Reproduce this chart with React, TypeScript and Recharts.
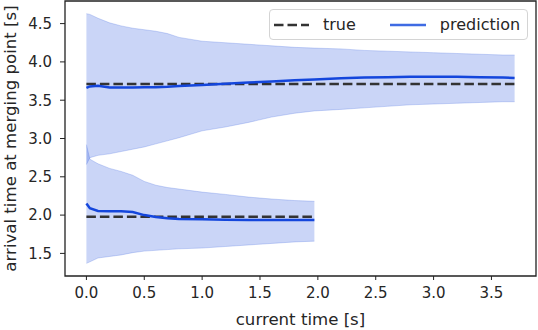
import React from 'react';
import { ComposedChart, Area, Line, XAxis, YAxis, ReferenceArea, Legend } from 'recharts';

// sample times [s]
const times = [0, 0.03, 0.1, 0.2, 0.3, 0.4, 0.5, 0.6, 0.7, 0.8, 1.0, 1.2, 1.4, 1.6, 1.8, 1.97, 2.2, 2.4, 2.6, 2.8, 3.0, 3.2, 3.4, 3.6, 3.7];

// vehicle 1 (later arrival)
const trueUpper = [3.71, 3.71, 3.71, 3.71, 3.71, 3.71, 3.71, 3.71, 3.71, 3.71, 3.71, 3.71, 3.71, 3.71, 3.71, 3.71, 3.71, 3.71, 3.71, 3.71, 3.71, 3.71, 3.71, 3.71, 3.71];
const predUpper = [3.66, 3.68, 3.69, 3.665, 3.665, 3.665, 3.67, 3.67, 3.675, 3.685, 3.7, 3.715, 3.73, 3.745, 3.76, 3.77, 3.785, 3.795, 3.8, 3.805, 3.805, 3.805, 3.8, 3.795, 3.79];
const highUpper = [4.63, 4.62, 4.57, 4.51, 4.47, 4.44, 4.42, 4.4, 4.37, 4.32, 4.27, 4.25, 4.23, 4.21, 4.19, 4.18, 4.17, 4.15, 4.14, 4.13, 4.12, 4.11, 4.1, 4.09, 4.09];
const lowUpper = [2.66, 2.75, 2.78, 2.8, 2.83, 2.86, 2.89, 2.93, 2.97, 3.01, 3.1, 3.15, 3.21, 3.28, 3.33, 3.36, 3.38, 3.4, 3.42, 3.44, 3.45, 3.46, 3.47, 3.48, 3.48];

// vehicle 2 (earlier arrival), only up to 1.97 s
const trueLower = [1.98, 1.98, 1.98, 1.98, 1.98, 1.98, 1.98, 1.98, 1.98, 1.98, 1.98, 1.98, 1.98, 1.98, 1.98, 1.98];
const predLower = [2.15, 2.09, 2.055, 2.05, 2.05, 2.04, 2.0, 1.975, 1.96, 1.95, 1.945, 1.94, 1.937, 1.935, 1.935, 1.935];
const highLower = [2.92, 2.73, 2.67, 2.61, 2.57, 2.52, 2.44, 2.39, 2.36, 2.34, 2.3, 2.27, 2.235, 2.21, 2.19, 2.18];
const lowLower = [1.37, 1.39, 1.44, 1.46, 1.48, 1.51, 1.53, 1.54, 1.55, 1.56, 1.57, 1.59, 1.61, 1.63, 1.65, 1.66];

const xTicks = [0, 0.5, 1.0, 1.5, 2.0, 2.5, 3.0, 3.5];
const yTicks = [1.5, 2.0, 2.5, 3.0, 3.5, 4.0, 4.5];
const xDomain: [number, number] = [-0.185, 3.885];
const yDomain: [number, number] = [1.205, 4.795];

const FONT = '"DejaVu Sans", sans-serif';
const TEXT = '#262626';
const BAND = '#4169e1';
const PRED = '#1446dc';
const TRUE_C = '#333';

const data = times.map((t, i) => ({
  t,
  bandUpper: [lowUpper[i], highUpper[i]],
  predUpper: predUpper[i],
  trueUpper: trueUpper[i],
  bandLower: i < predLower.length ? [lowLower[i], highLower[i]] : null,
  predLower: i < predLower.length ? predLower[i] : null,
  trueLower: i < trueLower.length ? trueLower[i] : null,
}));

const LegendBox = () => (
  <div
    style={{
      display: 'flex',
      alignItems: 'center',
      boxSizing: 'border-box',
      width: 259,
      height: 31,
      border: '1px solid #d4d4d4',
      borderRadius: 4,
      background: 'rgba(255,255,255,0.85)',
      paddingLeft: 4,
      fontFamily: FONT,
      fontSize: 16,
      color: TEXT,
    }}
  >
    <svg width={35} height={6}>
      <line x1={0} y1={3} x2={35} y2={3} stroke={TRUE_C} strokeWidth={2.5} strokeDasharray="9.5 4" />
    </svg>
    <span style={{ marginLeft: 14 }}>true</span>
    <svg width={36} height={6} style={{ marginLeft: 34 }}>
      <line x1={0} y1={3} x2={36} y2={3} stroke="#3f6be3" strokeWidth={2.5} />
    </svg>
    <span style={{ marginLeft: 14 }}>prediction</span>
  </div>
);

const YLabel = (props: any) => {
  const { x, y, height } = props.viewBox;
  const cx = x + 15.5;
  const cy = y + height / 2;
  return (
    <text x={cx} y={cy} transform={`rotate(-90, ${cx}, ${cy})`} textAnchor="middle" fontFamily={FONT} fontSize={16.6} fill={TEXT}>
      arrival time at merging point [s]
    </text>
  );
};

const XLabel = (props: any) => {
  const { x, y, width } = props.viewBox;
  return (
    <text x={x + width / 2} y={y + 49} textAnchor="middle" fontFamily={FONT} fontSize={16.6} fill={TEXT}>
      current time [s]
    </text>
  );
};

export default function App() {
  return (
    <div style={{ position: 'absolute', left: 0, top: 0, background: '#fff' }}>
      <ComposedChart width={538} height={330} data={data} margin={{ top: 1, right: 2, bottom: 0, left: 0 }}>
        <XAxis
          dataKey="t"
          type="number"
          domain={xDomain}
          ticks={xTicks}
          tickFormatter={(v: number) => v.toFixed(1)}
          height={54}
          tickSize={4}
          tickMargin={7}
          axisLine={false}
          tickLine={{ stroke: '#222' }}
          tick={{ fontFamily: FONT, fontSize: 15, fill: TEXT }}
          allowDataOverflow
          label={{ content: XLabel }}
        />
        <YAxis
          type="number"
          domain={yDomain}
          ticks={yTicks}
          tickFormatter={(v: number) => v.toFixed(1)}
          width={65}
          tickSize={5}
          tickMargin={8}
          axisLine={false}
          tickLine={{ stroke: '#222' }}
          tick={{ fontFamily: FONT, fontSize: 15, fill: TEXT }}
          allowDataOverflow
          label={{ content: YLabel }}
        />
        <Area
          dataKey="bandUpper"
          type="linear"
          fill={BAND}
          fillOpacity={0.28}
          stroke={BAND}
          strokeOpacity={0.25}
          strokeWidth={1}
          isAnimationActive={false}
        />
        <Area
          dataKey="bandLower"
          type="linear"
          fill={BAND}
          fillOpacity={0.28}
          stroke={BAND}
          strokeOpacity={0.25}
          strokeWidth={1}
          isAnimationActive={false}
        />
        <Line dataKey="trueUpper" type="linear" stroke={TRUE_C} strokeWidth={2.5} strokeDasharray="9.5 4" dot={false} isAnimationActive={false} />
        <Line dataKey="trueLower" type="linear" stroke={TRUE_C} strokeWidth={2.5} strokeDasharray="9.5 4" dot={false} isAnimationActive={false} />
        <Line dataKey="predUpper" type="linear" stroke={PRED} strokeWidth={2.5} dot={false} isAnimationActive={false} />
        <Line dataKey="predLower" type="linear" stroke={PRED} strokeWidth={2.5} dot={false} isAnimationActive={false} />
        <ReferenceArea
          x1={xDomain[0]}
          x2={xDomain[1]}
          y1={yDomain[0]}
          y2={yDomain[1]}
          fill="none"
          stroke="#222"
          strokeWidth={1.3}
          ifOverflow="visible"
        />
        <Legend
          layout="horizontal"
          verticalAlign="middle"
          align="center"
          content={LegendBox}
          wrapperStyle={{ top: 9, left: 269, width: 259, height: 31 }}
        />
      </ComposedChart>
    </div>
  );
}
